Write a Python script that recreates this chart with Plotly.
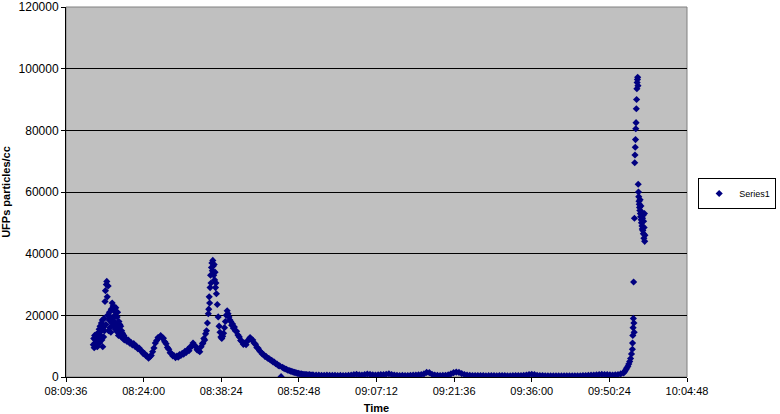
import pandas as pd
import plotly.graph_objects as go

# ---- data ----
DAY = "2000-01-01 "

# First burst: 08:14:40 onward, one reading every 5 s
seg1_start, seg1_step = "08:14:40", 5
seg1_values = [
    10500, 12500, 9500, 13500, 11000, 12000,
    10000, 13800, 12000, 9800, 14200, 11500,
    12500, 15500, 11000, 16500, 13500, 14800,
    17500, 12000, 18500, 9800, 16000, 13000,
    19000, 15000, 24500, 28000, 17000, 30000,
    31000, 26000, 20000, 29500, 15000, 18500,
    21000, 16000, 19500, 14500, 22000, 17500,
    24000, 19000, 23000, 16500, 21500, 18000,
    20000, 15500, 22500, 17000, 14800, 19500,
    21000, 16000, 13500, 18000, 15000, 17000,
    14000, 16500, 13000, 15000, 13500, 14200,
    13000, 12500, 13500, 12000, 12800, 12200,
]

# 08:20:40 onward, one reading every 15 s
seg2_start, seg2_step = "08:20:40", 15
seg2_values = [
    12200, 11500, 12000, 11000,
    11200, 10400, 10800, 9900,
    10000, 9200, 9400, 8600,
    8400, 7600, 7600, 6900,
    6800, 6100, 6600, 7000,
    8200, 9400, 11000, 11800,
    12800, 12900, 13400, 12700,
    12600, 11400, 10800, 9600,
    9000, 7900, 7600, 6800,
    6900, 6300, 6800, 6400,
    7300, 7000, 7700, 7400,
    8300, 8000, 8900, 8500,
    9800, 9900, 11000, 10300,
    9900, 8800, 8600, 8200,
    9800, 10800,
]

# Rise to the second burst: 08:35:00 onward, one reading every 10 s
seg3_start, seg3_step = "08:35:00", 10
seg3_values = [11000, 12500, 12000, 14000, 15000, 17500, 20500]

# Top of the second burst: 08:36:05 onward, one reading every 5 s
seg4_start, seg4_step = "08:36:05", 5
seg4_values = [
    22000, 26000, 24000, 29000, 33000, 30500, 35500, 37000, 34500,
    37800, 36000, 33000, 36500, 31500, 34000, 29000, 30500, 27000,
]

# Fall after the second burst: 08:37:40 onward, one reading every 10 s
seg5_start, seg5_step = "08:37:40", 10
seg5_values = [
    23500, 19500, 16500, 14500, 13000, 12500, 13200, 14200, 16000, 18000,
    20000, 21500, 20500, 19500, 18500, 18000, 16800, 17200, 15800, 16200,
    15000,
]

# 08:41:15 onward, one reading every 15 s
seg6_start, seg6_step = "08:41:15", 15
seg6_values = [
    14800, 13600, 13000, 11800,
    11600, 10600, 11000, 10500,
    11600, 12200, 12800, 12100,
    12000, 11000, 10600, 9600,
    9300, 8500, 8100, 7500,
    7300, 6700, 6600, 6100,
    6000, 5500, 5400, 4900,
    4800, 4300, 4200, 3700,
    3600, 100, 3100, 2900,
    2600, 2500, 2200, 2100,
    1900, 1800, 1600, 1500,
    1400, 1200, 1200, 1000,
    1000, 900, 850, 800,
    800, 700, 750, 650, 680,
]

# Low plateau: 08:55:30 onward, one reading every 30 s
seg7_start, seg7_step = "08:55:30", 30
seg7_values = [
    650, 600, 620, 580, 560, 600, 540, 520, 560, 500, 520, 480, 500, 540,
    600, 750, 900, 700, 650, 800, 950, 850, 700, 650, 700, 800, 750, 900, 1050,
    800, 650, 550, 500, 520,
    480, 500, 550, 600, 650, 700, 750, 1000, 1500, 1400, 900,
    650, 550, 500, 520, 560,
    700, 1000, 1400, 1600, 1500, 1100,
    800, 650, 550, 500, 480,
    460, 480, 450, 420, 440, 460, 430, 410, 450, 470, 440, 420, 400, 430, 450, 470, 500, 520,
    650, 800, 900, 750,
    550, 480, 450, 420, 400, 380, 400, 420, 380, 360, 380, 400, 420, 400, 380, 400, 420,
    450, 500, 550, 600, 650, 700, 800, 850, 800, 750, 700,
    650, 700, 800, 1000, 1300,
]

# Start of the final rise: 09:53:10 onward, one reading every 10 s
seg8_start, seg8_step = "09:53:10", 10
seg8_values = [1600, 2000, 2500, 3000, 3500, 4200, 5000, 6000, 7500, 9000]

# Final spike: 09:54:42 onward, one reading every 3 s
seg9_start, seg9_step = "09:54:42", 3
seg9_values = [
    11000, 13500, 16000, 19000, 30800, 17500, 14500, 51500,
    69500, 72000, 74500, 77000, 80500, 82500, 87000, 90000, 93500, 95500, 96500, 97200, 94500,
    62500, 60000, 58500, 57000, 56000, 55000, 54000, 57500, 53000, 52000, 55500, 51000, 50000,
    53500, 49000, 48000, 51500, 47500, 52500, 46500, 50500, 45000, 48500, 53000, 44000, 46000,
]

segments = [
    (seg1_start, seg1_step, seg1_values),
    (seg2_start, seg2_step, seg2_values),
    (seg3_start, seg3_step, seg3_values),
    (seg4_start, seg4_step, seg4_values),
    (seg5_start, seg5_step, seg5_values),
    (seg6_start, seg6_step, seg6_values),
    (seg7_start, seg7_step, seg7_values),
    (seg8_start, seg8_step, seg8_values),
    (seg9_start, seg9_step, seg9_values),
]

y_ticks = [0, 20000, 40000, 60000, 80000, 100000, 120000]
x_ticks = ["08:09:36", "08:24:00", "08:38:24", "08:52:48", "09:07:12",
           "09:21:36", "09:36:00", "09:50:24", "10:04:48"]

times = []
values = []
for start, step, vals in segments:
    rng = pd.date_range(DAY + start, periods=len(vals), freq=f"{step}s")
    times.extend(rng)
    values.extend(vals)

NAVY = "#000080"
FONT = "Liberation Sans, Arial, sans-serif"

fig = go.Figure()
fig.add_trace(go.Scatter(
    x=times, y=values, mode="markers", name="Series1",
    marker=dict(symbol="diamond", size=5.5, color=NAVY, line=dict(width=0)),
))

fig.update_layout(
    width=780, height=414,
    margin=dict(l=66, r=93, t=7, b=37, autoexpand=False),
    paper_bgcolor="white",
    plot_bgcolor="#C0C0C0",
    font=dict(family=FONT, size=11, color="black"),
    showlegend=True,
    legend=dict(
        x=1.018, y=0.496, xanchor="left", yanchor="middle",
        bordercolor="black", borderwidth=1, bgcolor="white",
        font=dict(size=9, family=FONT),
    ),
    xaxis=dict(
        type="date",
        range=[DAY + x_ticks[0], DAY + x_ticks[-1]],
        tickvals=[DAY + t for t in x_ticks],
        ticktext=x_ticks,
        showgrid=False, zeroline=False, automargin=False,
        showline=True, linecolor="black", linewidth=1,
        ticks="outside", ticklen=4, tickcolor="black",
        tickfont=dict(size=11),
        title=dict(text="<b>Time</b>", font=dict(size=11), standoff=8),
    ),
    yaxis=dict(
        range=[0, 120000],
        tickvals=y_ticks,
        tickformat="d",
        showgrid=True, gridcolor="black", gridwidth=1,
        zeroline=False, automargin=False,
        showline=True, linecolor="black", linewidth=1,
        ticks="outside", ticklen=4, tickcolor="black",
        tickfont=dict(size=12),
        title=dict(text="<b>UFPs particles/cc</b>", font=dict(size=11), standoff=7),
    ),
    shapes=[
        dict(type="rect", xref="paper", yref="paper", x0=0, x1=1, y0=0, y1=1,
             line=dict(color="#808080", width=1), layer="below"),
    ],
)

fig.write_html("out.html",
               config={"displayModeBar": False},
               post_script="document.body.style.margin='0';document.body.style.overflow='hidden';")
